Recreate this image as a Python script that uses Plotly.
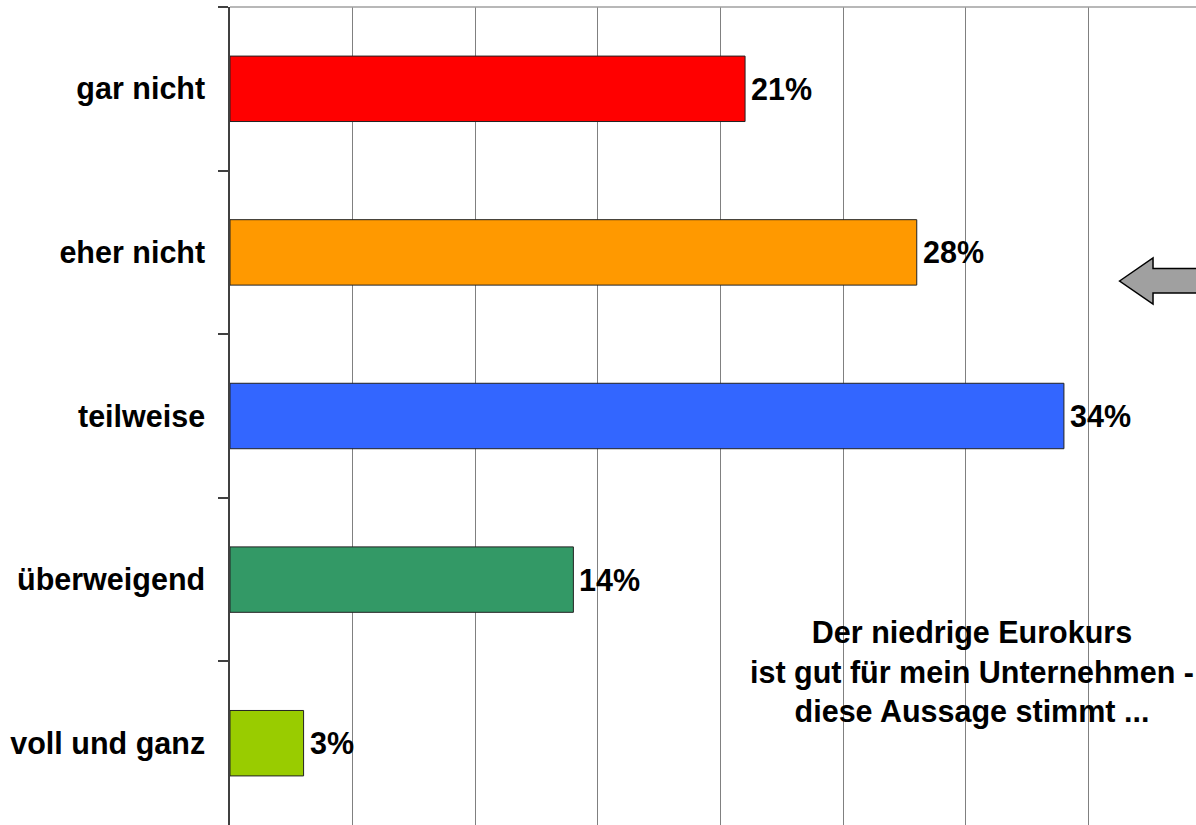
import plotly.graph_objects as go

categories = ["gar nicht", "eher nicht", "teilweise", "überweigend", "voll und ganz"]
values = [21, 28, 34, 14, 3]
labels = ["21%", "28%", "34%", "14%", "3%"]
colors = ["#FF0000", "#FF9900", "#3366FF", "#339966", "#99CC00"]
note_text = "Der niedrige Eurokurs<br>ist gut für mein Unternehmen -<br>diese Aussage stimmt ..."

W, H = 1196, 825
ML, MT = 229.5, 7
PW, PH = W - ML, H - MT

def px_to_paper(x, y):
    return (x - ML) / PW, (H - y) / PH

font_family = "Liberation Sans, Arial, sans-serif"
FS = 30.5

fig = go.Figure()
fig.add_trace(go.Bar(
    y=categories, x=values, orientation="h",
    marker=dict(color=colors, line=dict(color="#222222", width=1)),
    width=0.4,
))

for cat, val, lab in zip(categories, values, labels):
    fig.add_annotation(x=val, y=cat, xref="x", yref="y", text=lab, showarrow=False,
                       xanchor="left", yanchor="middle", xshift=4,
                       font=dict(family=font_family, size=FS, color="black", weight="bold"))

# arrow (pixel outline -> paper coordinates)
arrow_px = [(1119.5, 281), (1153, 258), (1153, 268.5), (1205, 268.5),
            (1205, 293), (1153, 293), (1153, 304)]
pts = [px_to_paper(x, y) for x, y in arrow_px]
path = "M " + " L ".join(f"{x:.5f},{y:.5f}" for x, y in pts) + " Z"
fig.add_shape(type="path", xref="paper", yref="paper", path=path,
              fillcolor="#A0A0A0", line=dict(color="black", width=1.5))

# top border
fig.add_shape(type="line", xref="paper", yref="paper", x0=0, x1=1, y0=1, y1=1,
              line=dict(color="#A0A0A0", width=1.5))

ax, ay = px_to_paper(972, 672)
fig.add_annotation(xref="paper", yref="paper", x=ax, y=ay, text=note_text,
                   showarrow=False, align="center", xanchor="center", yanchor="middle",
                   font=dict(family=font_family, size=FS, color="black", weight="bold"))

fig.update_layout(
    width=W, height=H,
    margin=dict(l=ML, r=0, t=MT, b=0, autoexpand=False),
    plot_bgcolor="white", paper_bgcolor="white",
    showlegend=False,
    xaxis=dict(range=[0, PW / 24.54], dtick=5, showgrid=True, gridcolor="#808080",
               gridwidth=1, showticklabels=False, zeroline=False, showline=False, ticks="",
               automargin=False),
    yaxis=dict(autorange="reversed", showline=True, linecolor="#404040", linewidth=1.5,
               ticks="outside", tickson="boundaries", ticklen=10, tickcolor="#404040",
               tickwidth=1.5, ticklabelstandoff=17, automargin=False,
               tickfont=dict(family=font_family, size=FS, color="black", weight="bold")),
)

fig.write_html("out.html", config={"displayModeBar": False},
               post_script="document.body.style.margin='0px';document.body.style.overflow='hidden';")
